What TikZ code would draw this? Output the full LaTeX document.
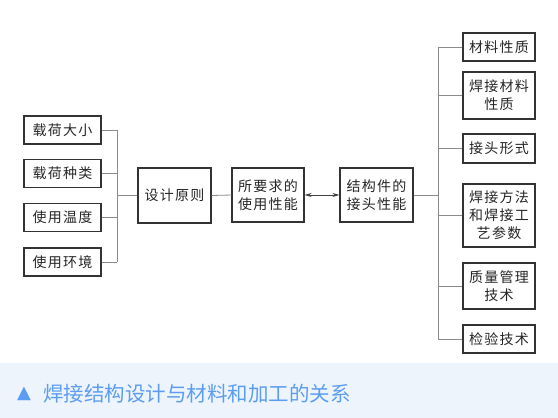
\documentclass[tikz,border=0pt]{standalone}
\usepackage{fontspec}
\newfontfamily\cjk[LetterSpace=9]{Noto Sans CJK SC}
\newfontfamily\cjkcap{Noto Sans CJK SC}
\newfontfamily\symf{DejaVu Sans}
\usetikzlibrary{arrows.meta}
\definecolor{bandbg}{HTML}{EDF4FC}
\definecolor{captxt}{HTML}{5C9DF2}
\definecolor{boxline}{HTML}{333333}
\definecolor{conn}{HTML}{8A8A8A}
\begin{document}
\begin{tikzpicture}[x=1pt,y=-1pt,
  box/.style={draw=boxline, line width=1.1pt, fill=white, align=center, inner sep=0pt,
    font=\cjk\fontsize{14}{18}\selectfont, text=black!85},
  conn/.style={draw=conn, line width=0.8pt}]
\useasboundingbox (0,0) rectangle (558,418);
\fill[white] (0,0) rectangle (558,363);
\fill[bandbg] (0,363) rectangle (558,418);
% left boxes
\node[box, minimum width=77pt, minimum height=28pt] (l1) at (62.5,130) {载荷大小};
\node[box, minimum width=77pt, minimum height=28pt] (l2) at (62.5,173.5) {载荷种类};
\node[box, minimum width=77pt, minimum height=28pt] (l3) at (62.5,217.5) {使用温度};
\node[box, minimum width=77pt, minimum height=28pt] (l4) at (62.5,262) {使用环境};
% middle
\node[box, minimum width=73pt, minimum height=55pt] (d) at (174.5,195.5) {设计原则};
\node[box, minimum width=72pt, minimum height=54pt] (u) at (268,195) {所要求的\\使用性能};
\node[box, minimum width=73pt, minimum height=54pt] (s) at (376.5,195) {结构件的\\接头性能};
% right boxes
\node[box, minimum width=72pt, minimum height=28pt] (r1) at (499,47) {材料性质};
\node[box, minimum width=72pt, minimum height=47pt] (r2) at (499,95.5) {焊接材料\\性质};
\node[box, minimum width=72pt, minimum height=29pt] (r3) at (499,148.5) {接头形式};
\node[box, minimum width=72pt, minimum height=63pt] (r4) at (499,215.5) {焊接方法\\和焊接工\\艺参数};
\node[box, minimum width=72pt, minimum height=46pt] (r5) at (499,286) {质量管理\\技术};
\node[box, minimum width=72pt, minimum height=28pt] (r6) at (499,339) {检验技术};
% left bus
\coordinate (lb) at (117,195.5);
\foreach \n in {l1,l2,l3,l4} \draw[conn] (\n.east) -- (\n.east -| lb);
\draw[conn] (l1.east -| lb) -- (l4.east -| lb);
\draw[conn] (lb) -- (d.west);
\draw[conn] (d.east) -- (u.west);
\draw[conn, draw=black!75, {Stealth[length=7pt,width=4pt]}-{Stealth[length=7pt,width=4pt]}] (u.east) -- (s.west);
% right bus
\coordinate (rb) at (438,195);
\draw[conn] (s.east) -- (rb);
\foreach \n in {r1,r2,r3,r4,r5,r6} \draw[conn] (\n.west) -- (\n.west -| rb);
\draw[conn] (r1.west -| rb) -- (r6.west -| rb);
% caption
\node[anchor=west, inner sep=0pt, text=captxt, font=\symf\fontsize{18}{20}\selectfont] (tri) at (17,394) {▲};
\node[anchor=west, inner sep=0pt, text=captxt, font=\cjkcap\fontsize{20.5}{24}\selectfont] (cap) at (43,394) {焊接结构设计与材料和加工的关系};
\end{tikzpicture}
\end{document}
